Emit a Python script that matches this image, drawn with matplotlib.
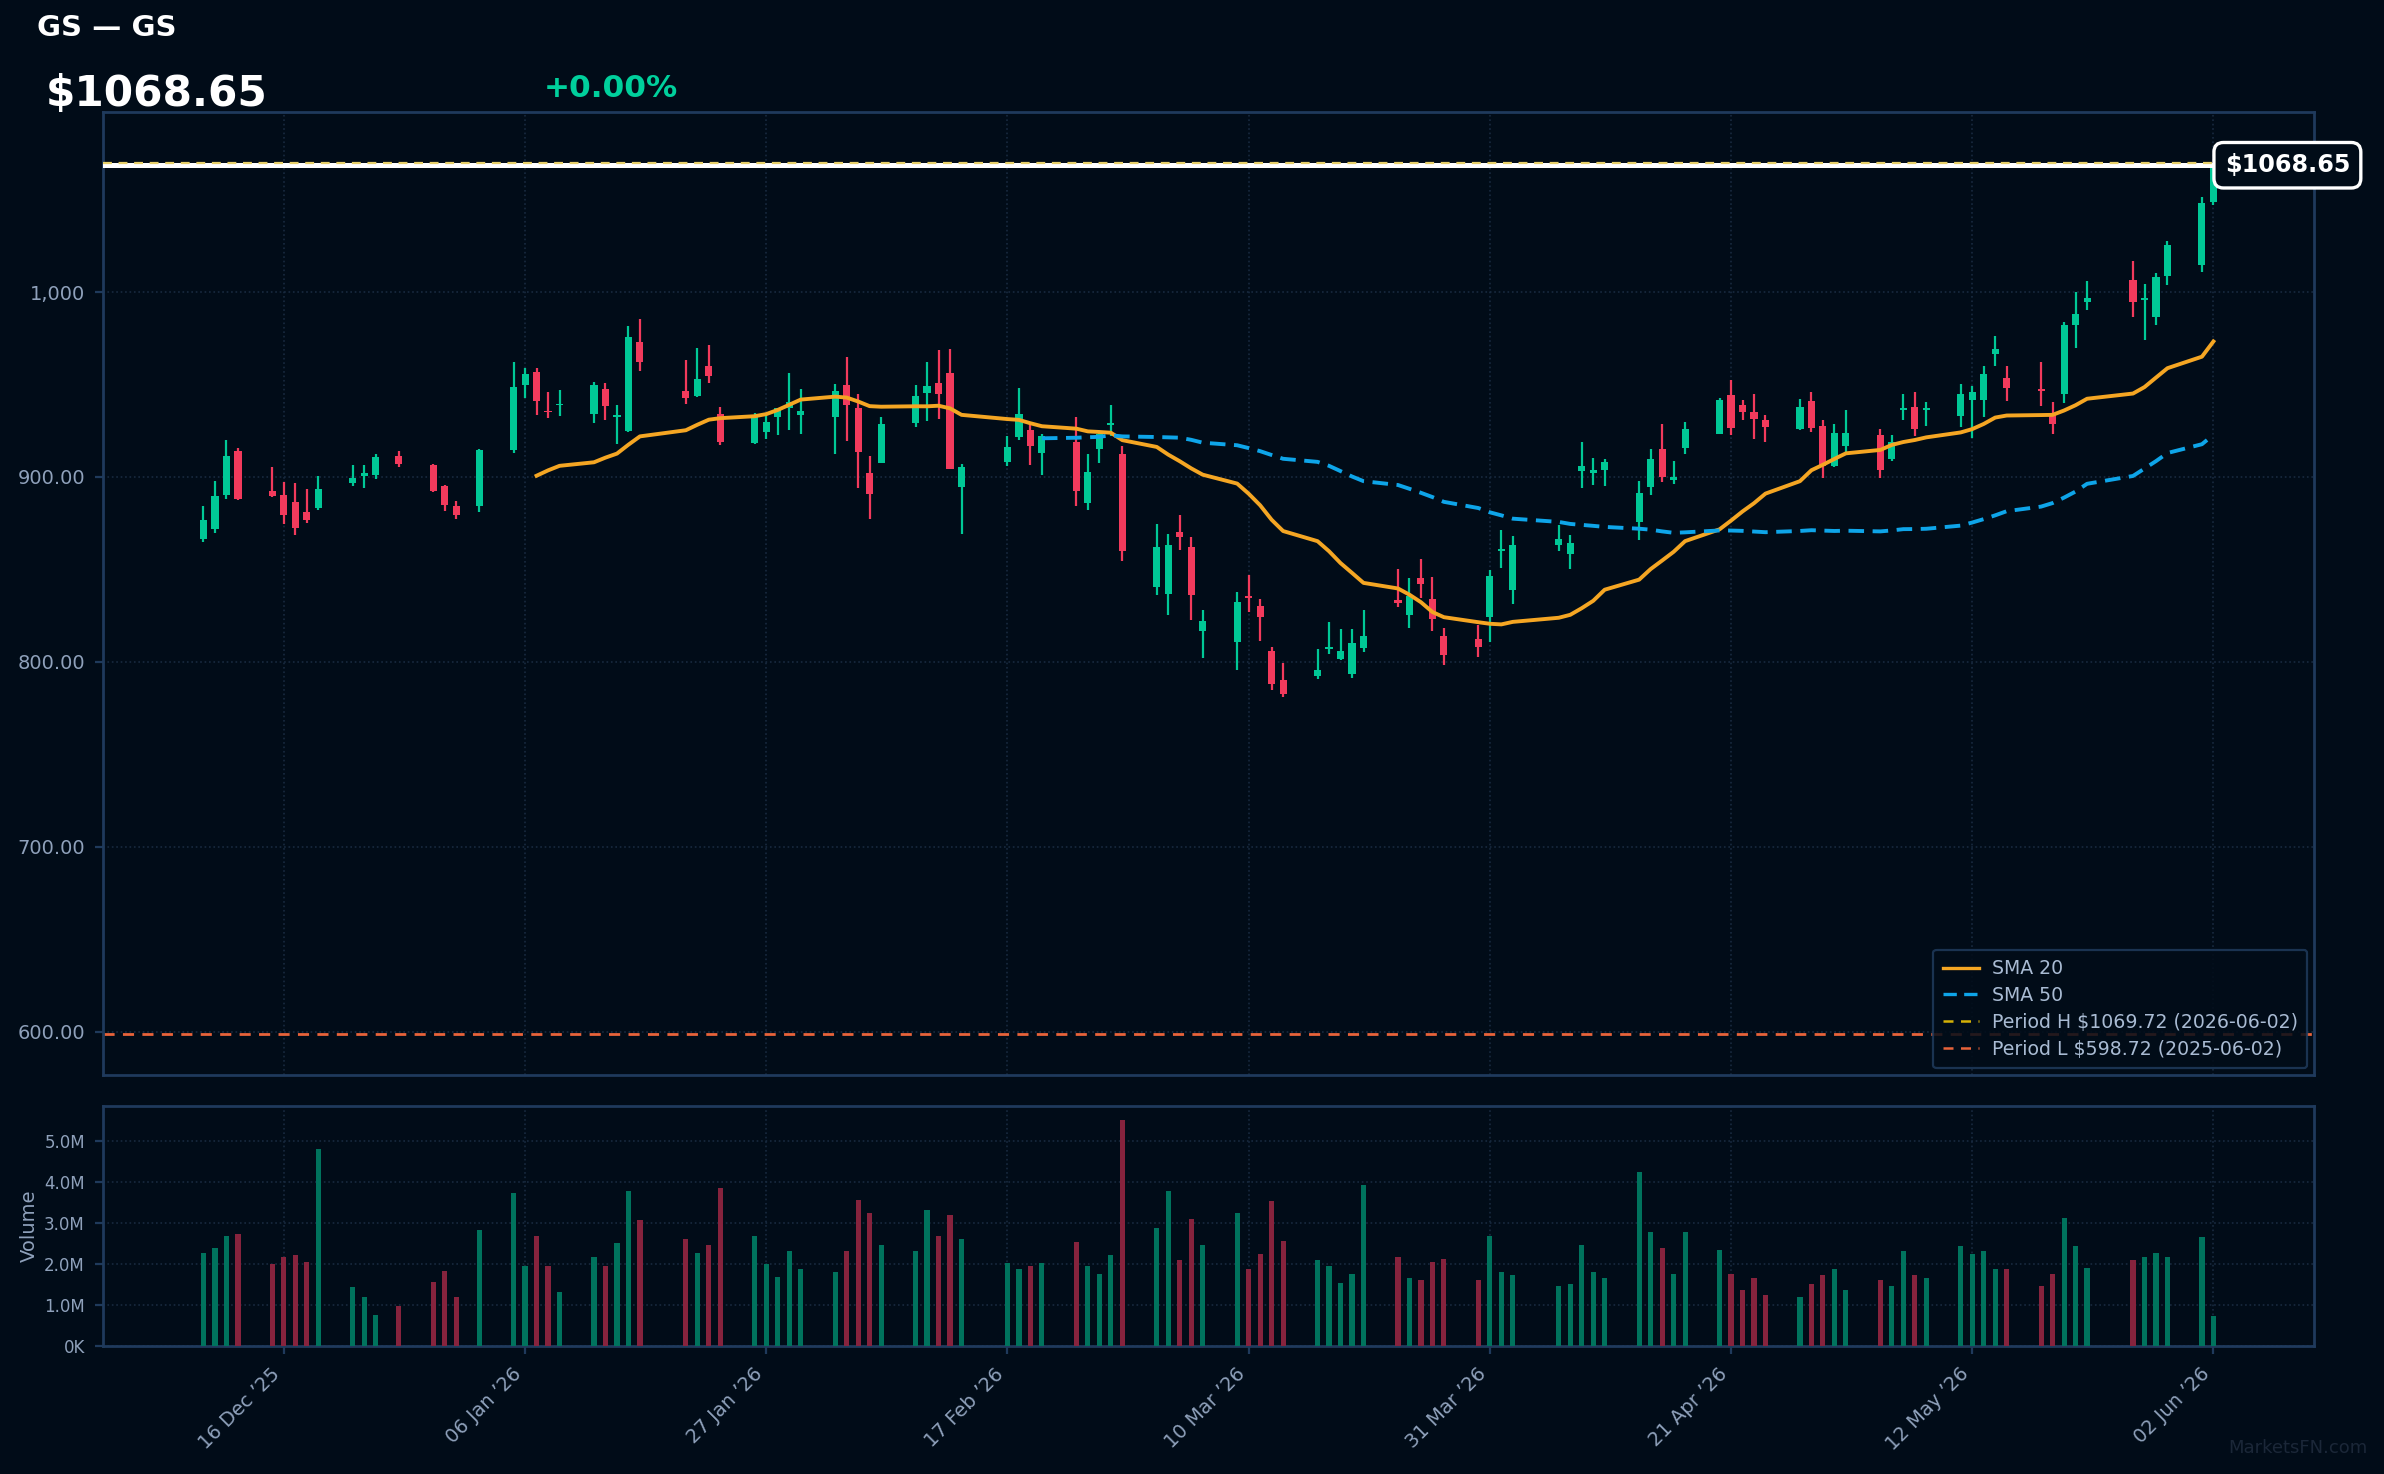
import numpy as np
import pandas as pd
import matplotlib
matplotlib.use("Agg")
import matplotlib.pyplot as plt
import matplotlib.dates as mdates
from matplotlib.ticker import FuncFormatter, FixedLocator
from matplotlib.lines import Line2D

# --- data ---
dates = [
    "2025-12-09", "2025-12-10", "2025-12-11", "2025-12-12", "2025-12-15", "2025-12-16",
    "2025-12-17", "2025-12-18", "2025-12-19", "2025-12-22", "2025-12-23", "2025-12-24",
    "2025-12-26", "2025-12-29", "2025-12-30", "2025-12-31", "2026-01-02", "2026-01-05",
    "2026-01-06", "2026-01-07", "2026-01-08", "2026-01-09", "2026-01-12", "2026-01-13",
    "2026-01-14", "2026-01-15", "2026-01-16", "2026-01-20", "2026-01-21", "2026-01-22",
    "2026-01-23", "2026-01-26", "2026-01-27", "2026-01-28", "2026-01-29", "2026-01-30",
    "2026-02-02", "2026-02-03", "2026-02-04", "2026-02-05", "2026-02-06", "2026-02-09",
    "2026-02-10", "2026-02-11", "2026-02-12", "2026-02-13", "2026-02-17", "2026-02-18",
    "2026-02-19", "2026-02-20", "2026-02-23", "2026-02-24", "2026-02-25", "2026-02-26",
    "2026-02-27", "2026-03-02", "2026-03-03", "2026-03-04", "2026-03-05", "2026-03-06",
    "2026-03-09", "2026-03-10", "2026-03-11", "2026-03-12", "2026-03-13", "2026-03-16",
    "2026-03-17", "2026-03-18", "2026-03-19", "2026-03-20", "2026-03-23", "2026-03-24",
    "2026-03-25", "2026-03-26", "2026-03-27", "2026-03-30", "2026-03-31", "2026-04-01",
    "2026-04-02", "2026-04-06", "2026-04-07", "2026-04-08", "2026-04-09", "2026-04-10",
    "2026-04-13", "2026-04-14", "2026-04-15", "2026-04-16", "2026-04-17", "2026-04-20",
    "2026-04-21", "2026-04-22", "2026-04-23", "2026-04-24", "2026-04-27", "2026-04-28",
    "2026-04-29", "2026-04-30", "2026-05-01", "2026-05-04", "2026-05-05", "2026-05-06",
    "2026-05-07", "2026-05-08", "2026-05-11", "2026-05-12", "2026-05-13", "2026-05-14",
    "2026-05-15", "2026-05-18", "2026-05-19", "2026-05-20", "2026-05-21", "2026-05-22",
    "2026-05-26", "2026-05-27", "2026-05-28", "2026-05-29", "2026-06-01", "2026-06-02",
]
opens = [
    866.3, 871.7, 890.1, 914.2, 892.6, 890.4, 886.6, 881.2, 883.0, 896.6, 900.3, 901.2,
    911.5, 906.6, 895.3, 884.5, 884.1, 914.4, 949.5, 956.9, 935.8, 938.7, 933.9, 947.7,
    932.4, 924.7, 973.1, 946.6, 943.9, 960.2, 934.0, 918.2, 924.1, 932.2, 937.1, 933.8,
    932.2, 949.9, 937.5, 902.3, 907.7, 929.0, 945.7, 951.0, 956.4, 894.4, 907.9, 921.4,
    925.6, 912.8, 919.1, 885.7, 914.9, 928.1, 912.6, 840.3, 836.6, 870.4, 862.3, 816.6,
    810.6, 835.3, 830.4, 806.1, 790.4, 792.2, 806.8, 801.4, 793.3, 807.4, 833.7, 825.2,
    845.6, 834.2, 814.2, 812.1, 824.1, 860.2, 838.7, 863.0, 858.2, 903.0, 902.1, 903.8,
    875.5, 894.4, 915.3, 898.5, 915.5, 923.4, 944.3, 939.1, 935.3, 931.0, 925.8, 941.2,
    927.7, 905.7, 916.6, 922.9, 909.5, 936.4, 938.0, 936.2, 932.8, 941.8, 941.8, 966.8,
    953.7, 947.5, 934.6, 944.7, 982.0, 994.4, 1006.5, 995.7, 986.3, 1009.0, 1014.9, 1048.8,
]
highs = [
    884.5, 898.0, 920.2, 915.8, 905.6, 897.5, 896.9, 893.7, 900.7, 906.6, 906.6, 912.6,
    914.2, 907.2, 895.8, 887.2, 915.3, 962.3, 959.1, 959.1, 946.1, 947.2, 951.5, 951.0,
    939.1, 981.8, 985.6, 963.4, 969.9, 971.5, 938.0, 934.4, 933.3, 937.5, 956.4, 947.7,
    950.4, 965.0, 945.0, 911.5, 932.6, 949.9, 962.3, 968.8, 969.3, 907.2, 922.3, 948.3,
    929.9, 923.2, 932.6, 912.6, 924.7, 939.1, 916.9, 874.8, 869.3, 879.6, 867.7, 828.3,
    838.0, 847.2, 834.2, 808.3, 799.6, 806.7, 821.8, 817.5, 817.5, 828.3, 850.4, 845.6,
    855.8, 846.1, 818.5, 820.2, 849.9, 871.5, 868.3, 874.2, 868.8, 919.1, 910.4, 909.9,
    898.0, 915.3, 928.8, 908.8, 929.9, 942.9, 952.6, 941.8, 945.0, 933.7, 942.3, 946.1,
    931.0, 928.8, 936.4, 926.1, 922.9, 945.0, 946.1, 940.7, 950.4, 949.3, 960.2, 976.4,
    960.2, 962.3, 940.7, 983.6, 1000.2, 1006.1, 1016.9, 1004.5, 1010.4, 1027.7, 1051.5, 1069.72,
]
lows = [
    864.7, 869.5, 887.9, 887.4, 889.2, 874.4, 868.4, 874.9, 882.0, 894.9, 893.9, 898.7,
    905.2, 891.7, 881.4, 877.1, 880.9, 912.8, 943.0, 933.8, 931.7, 932.8, 929.0, 931.1,
    917.6, 924.2, 957.1, 939.3, 943.4, 950.6, 917.1, 918.0, 920.3, 922.5, 925.2, 923.0,
    912.2, 919.3, 893.8, 877.1, 907.3, 926.8, 930.1, 931.2, 904.1, 869.0, 905.8, 919.8,
    906.3, 900.9, 884.1, 882.0, 907.4, 922.0, 854.4, 836.4, 825.2, 860.3, 822.5, 802.0,
    795.5, 826.8, 811.2, 784.7, 780.9, 790.6, 804.1, 801.0, 791.2, 805.2, 829.5, 818.2,
    834.4, 816.6, 798.2, 802.5, 810.6, 850.6, 831.1, 859.8, 850.1, 893.8, 895.6, 894.9,
    865.7, 890.1, 897.1, 896.0, 912.2, 923.1, 922.5, 931.0, 920.7, 919.1, 925.5, 924.1,
    899.3, 905.2, 913.3, 899.3, 908.4, 931.0, 922.0, 927.4, 926.8, 920.9, 932.6, 960.2,
    941.2, 938.5, 923.4, 940.2, 969.9, 990.6, 986.8, 974.2, 982.0, 1003.6, 1011.1, 1047.2,
]
closes = [
    876.9, 889.9, 911.5, 887.9, 889.5, 879.3, 872.2, 876.5, 893.7, 899.6, 902.3, 911.0,
    906.8, 892.2, 884.7, 879.3, 914.8, 948.8, 955.8, 940.9, 934.9, 939.1, 949.9, 938.2,
    933.1, 975.8, 962.0, 943.0, 953.1, 954.4, 918.7, 932.2, 929.7, 937.1, 940.3, 935.8,
    946.6, 938.7, 913.3, 890.6, 928.8, 943.9, 949.3, 944.7, 904.5, 905.6, 916.4, 934.2,
    916.6, 922.3, 892.2, 902.9, 923.2, 929.2, 859.8, 862.3, 863.4, 867.4, 836.0, 822.3,
    832.6, 834.4, 824.1, 787.9, 782.5, 795.8, 807.6, 806.1, 810.4, 814.2, 831.7, 835.8,
    842.0, 823.0, 803.6, 807.9, 846.6, 860.7, 863.4, 866.6, 864.5, 906.1, 903.9, 908.1,
    891.5, 909.9, 900.2, 900.2, 926.1, 941.8, 926.3, 934.9, 931.2, 926.8, 938.0, 926.3,
    905.7, 923.9, 923.9, 903.6, 918.7, 937.3, 925.8, 936.7, 945.0, 945.9, 955.8, 969.2,
    948.4, 946.7, 928.4, 982.3, 988.3, 996.7, 994.4, 996.2, 1008.3, 1025.6, 1048.3, 1068.65,
]
volumes_m = [
    2.28, 2.40, 2.69, 2.72, 2.00, 2.16, 2.21, 2.06, 4.81, 1.43, 1.21, 0.77,
    0.99, 1.57, 1.84, 1.21, 2.82, 3.74, 1.96, 2.69, 1.96, 1.33, 2.18, 1.96,
    2.52, 3.79, 3.08, 2.62, 2.26, 2.46, 3.86, 2.68, 1.99, 1.69, 2.32, 1.88,
    1.80, 2.32, 3.57, 3.24, 2.46, 2.32, 3.31, 2.68, 3.20, 2.61, 2.02, 1.88,
    1.95, 2.02, 2.54, 1.95, 1.76, 2.21, 5.51, 2.87, 3.79, 2.10, 3.09, 2.46,
    3.24, 1.88, 2.24, 3.53, 2.57, 2.10, 1.95, 1.54, 1.76, 3.93, 2.17, 1.65,
    1.62, 2.06, 2.13, 1.62, 2.68, 1.80, 1.73, 1.47, 1.51, 2.46, 1.80, 1.65,
    4.23, 2.79, 2.39, 1.76, 2.79, 2.35, 1.76, 1.36, 1.65, 1.25, 1.21, 1.51,
    1.73, 1.88, 1.36, 1.62, 1.47, 2.32, 1.73, 1.65, 2.43, 2.24, 2.32, 1.88,
    1.88, 1.47, 1.76, 3.13, 2.43, 1.91, 2.10, 2.17, 2.28, 2.17, 2.65, 0.74,
]
tick_dates = ["2025-12-16", "2026-01-06", "2026-01-27", "2026-02-17", "2026-03-10",
              "2026-03-31", "2026-04-21", "2026-05-12", "2026-06-02"]
period_high, period_high_date = 1069.72, "2026-06-02"
period_low, period_low_date = 598.72, "2025-06-02"
last_price = 1068.65
change_pct = 0.00

# --- colours ---
BG = "#010c18"
SPINE = "#1f3a5c"
GRID = "#182a3f"
TXT = "#8fa1bb"
UP = "#00c896"
DOWN = "#f23a5c"
VOL_UP = "#00735d"
VOL_DOWN = "#86233d"

df = pd.DataFrame({"Open": opens, "High": highs, "Low": lows, "Close": closes,
                   "Volume": np.array(volumes_m) * 1e6}, index=pd.to_datetime(dates))
df["SMA20"] = df["Close"].rolling(20).mean()
df["SMA50"] = df["Close"].rolling(50).mean()

x = mdates.date2num(df.index.to_pydatetime())
o, h, l, c = df["Open"].values, df["High"].values, df["Low"].values, df["Close"].values
up = c >= o
cols = np.where(up, UP, DOWN)

fig = plt.figure(figsize=(11.92, 7.37), dpi=200, facecolor=BG)
ax = fig.add_axes([0.0432, 0.2707, 0.9274, 0.6530], facecolor=BG)
axv = fig.add_axes([0.0432, 0.0867, 0.9274, 0.1630], facecolor=BG, sharex=ax)

# candles
ax.vlines(x, l, h, colors=cols, linewidth=0.8, zorder=3)
ax.bar(x, np.maximum(np.abs(c - o), 1.0), bottom=np.minimum(o, c), width=0.62,
       color=cols, edgecolor="none", zorder=4)

ax.plot(x, df["SMA20"], color="#f5a623", lw=1.4, zorder=5, label="SMA 20")
ax.plot(x, df["SMA50"], color="#0ea5e9", lw=1.4, ls=(0, (4, 2.2)), zorder=5, label="SMA 50")

ax.axhline(last_price, color="white", lw=1.8, zorder=6)
ax.axhline(period_high, color="#e6cf6a", lw=0.8, ls=(0, (4, 3)), zorder=7)
ax.axhline(period_low, color="#e8633a", lw=1.0, ls=(0, (4, 3)), zorder=2)

ax.annotate(f"${last_price:.2f}", xy=(0.988, last_price),
            xycoords=("axes fraction", "data"), ha="center", va="center",
            fontsize=8.6, fontweight="bold", color="white", zorder=10,
            annotation_clip=False,
            bbox=dict(boxstyle="round,pad=0.45,rounding_size=0.4", fc=BG, ec="white", lw=1.2))

handles = [
    Line2D([], [], color="#f5a623", lw=1.2),
    Line2D([], [], color="#0ea5e9", lw=1.2, ls=(0, (4, 2.2))),
    Line2D([], [], color="#d4b106", lw=0.9, ls=(0, (4, 3))),
    Line2D([], [], color="#e8633a", lw=0.9, ls=(0, (4, 3))),
]
labels = ["SMA 20", "SMA 50",
          f"Period H ${period_high:.2f} ({period_high_date})",
          f"Period L ${period_low:.2f} ({period_low_date})"]
leg = ax.legend(handles, labels, loc="lower right", fontsize=6.8, frameon=True,
                facecolor=BG, edgecolor=SPINE, framealpha=0.85, labelcolor="#a9bbd3",
                handlelength=1.9, handletextpad=0.7, borderpad=0.5, labelspacing=0.42,
                bbox_to_anchor=(1.0, 0.0), borderaxespad=0.35)
leg.get_frame().set_linewidth(0.8)
leg.set_zorder(20)

ax.set_ylim(576.5, 1097.2)
ax.yaxis.set_major_locator(FixedLocator([600, 700, 800, 900, 1000]))
ax.yaxis.set_major_formatter(FuncFormatter(
    lambda v, p: f"{v:,.0f}" if v >= 1000 else f"{v:.2f}"))

# volume
axv.bar(x, df["Volume"], width=0.45, color=np.where(up, VOL_UP, VOL_DOWN),
        edgecolor="none", zorder=3)
axv.set_ylim(0, 5.85e6)
axv.yaxis.set_major_locator(FixedLocator([0, 1e6, 2e6, 3e6, 4e6, 5e6]))
axv.yaxis.set_major_formatter(FuncFormatter(
    lambda v, p: "0K" if v == 0 else f"{v / 1e6:.1f}M"))
axv.set_ylabel("Volume", color=TXT, fontsize=7, labelpad=2)

start = mdates.date2num(pd.Timestamp("2025-11-30 06:00"))
end = mdates.date2num(pd.Timestamp("2026-06-10 18:00"))
ax.set_xlim(start, end)
axv.xaxis.set_major_locator(FixedLocator(mdates.date2num(pd.to_datetime(tick_dates))))
axv.xaxis.set_major_formatter(mdates.DateFormatter("%d %b \u2019%y"))
plt.setp(axv.get_xticklabels(), rotation=45, ha="right")

for a in (ax, axv):
    for s in a.spines.values():
        s.set_color(SPINE)
        s.set_linewidth(1.0)
    a.grid(True, color=GRID, ls=":", lw=0.6, zorder=0)
    a.set_axisbelow(True)
    a.tick_params(colors=SPINE, labelcolor=TXT, length=3, width=0.8)
ax.tick_params(axis="y", labelsize=7)
ax.tick_params(axis="x", labelbottom=False, length=0)
axv.tick_params(axis="y", labelsize=6)
axv.tick_params(axis="x", labelsize=7)

# header texts
fig.text(0.0155, 0.981, "GS \u2014 GS", color="white", fontsize=10.5, fontweight="bold",
         va="center", ha="left")
fig.text(0.019, 0.936, f"${last_price:.2f}", color="white", fontsize=15.2, fontweight="bold",
         va="center", ha="left")
fig.text(0.228, 0.940, f"+{change_pct:.2f}%", color="#00d09c", fontsize=11.2,
         fontweight="bold", va="center", ha="left")
fig.text(0.993, 0.0175, "MarketsFN.com", color="#1b2738", fontsize=6.5, ha="right", va="center")

fig.savefig("out.png", dpi=200, facecolor=BG)
